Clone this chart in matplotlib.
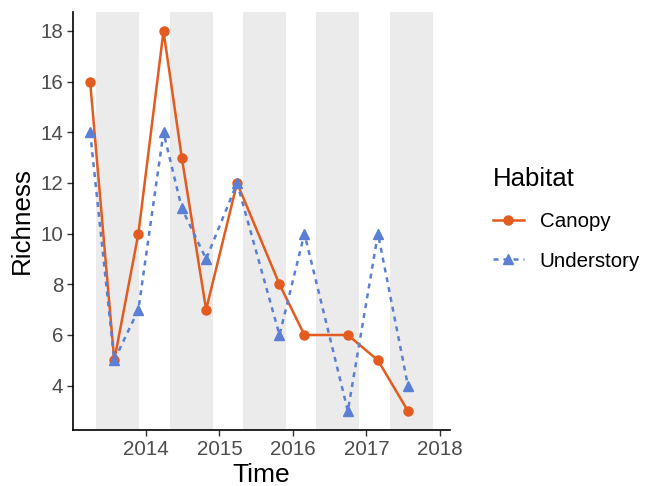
import matplotlib
matplotlib.use("Agg")
import matplotlib.pyplot as plt
import matplotlib.dates as mdates
import pandas as pd

plt.rcParams['font.family'] = ['Liberation Sans', 'DejaVu Sans']

dates = ["2013-03-29", "2013-07-27", "2013-11-24", "2014-03-29", "2014-06-28",
         "2014-10-27", "2015-03-30", "2015-10-27", "2016-02-28", "2016-10-01",
         "2017-02-28", "2017-07-27"]
canopy = [16, 5, 10, 18, 13, 7, 12, 8, 6, 6, 5, 3]
understory = [14, 5, 7, 14, 11, 9, 12, 6, 10, 3, 10, 4]
band_starts = ["2013-04-28", "2014-04-28", "2015-04-28", "2016-04-28", "2017-04-28"]
band_ends = ["2013-11-28", "2014-11-28", "2015-11-28", "2016-11-28", "2017-11-28"]
year_ticks = ["2014-01-01", "2015-01-01", "2016-01-01", "2017-01-01", "2018-01-01"]
year_labels = ["2014", "2015", "2016", "2017", "2018"]
y_ticks = [4, 6, 8, 10, 12, 14, 16, 18]

c_orange = "#E35B1F"
c_blue = "#5B7FD5"

x = pd.to_datetime(dates)
bs = pd.to_datetime(band_starts)
be = pd.to_datetime(band_ends)

fig = plt.figure(figsize=(6.45, 4.86), dpi=100)
ax = fig.add_axes([73/645, 1 - 430/486, (450-73)/645, (430-12)/486])

for s, e in zip(bs, be):
    ax.axvspan(s, e, color="#EBEBEB", lw=0, zorder=0)

ax.plot(x, canopy, color=c_orange, lw=1.8, marker="o", ms=6.5, label="Canopy", zorder=3)
ax.plot(x, understory, color=c_blue, lw=1.8, ls=(0, (2.0, 2.0)), marker="^", ms=7.5,
        label="Understory", zorder=3)

xmin = mdates.date2num(x.min())
xmax = mdates.date2num(be.max())
r = xmax - xmin
ax.set_xlim(xmin - 0.05 * r, xmax + 0.05 * r)
ymin, ymax = min(min(canopy), min(understory)), max(max(canopy), max(understory))
yr = ymax - ymin
ax.set_ylim(ymin - 0.05 * yr, ymax + 0.05 * yr)

ax.set_xticks(pd.to_datetime(year_ticks))
ax.set_xticklabels(year_labels)
ax.set_yticks(y_ticks)

for sp in ["top", "right"]:
    ax.spines[sp].set_visible(False)
for sp in ["left", "bottom"]:
    ax.spines[sp].set_linewidth(1.2)
    ax.spines[sp].set_color("black")
ax.tick_params(axis="both", labelsize=14.8, labelcolor="#4D4D4D", color="#333333",
               length=4, width=1.0, pad=3)

ax.set_xlabel("Time", fontsize=19, labelpad=3)
ax.set_ylabel("Richness", fontsize=18.7, labelpad=5)

leg = fig.legend(loc="upper left", bbox_to_anchor=(474/645, 1 - 149/486),
                 title="Habitat", fontsize=14.8, title_fontsize=18.5, frameon=False,
                 handlelength=1.55, labelspacing=1.0, handletextpad=0.75)
leg._legend_box.align = "left"

fig.savefig("out.png", dpi=100)
